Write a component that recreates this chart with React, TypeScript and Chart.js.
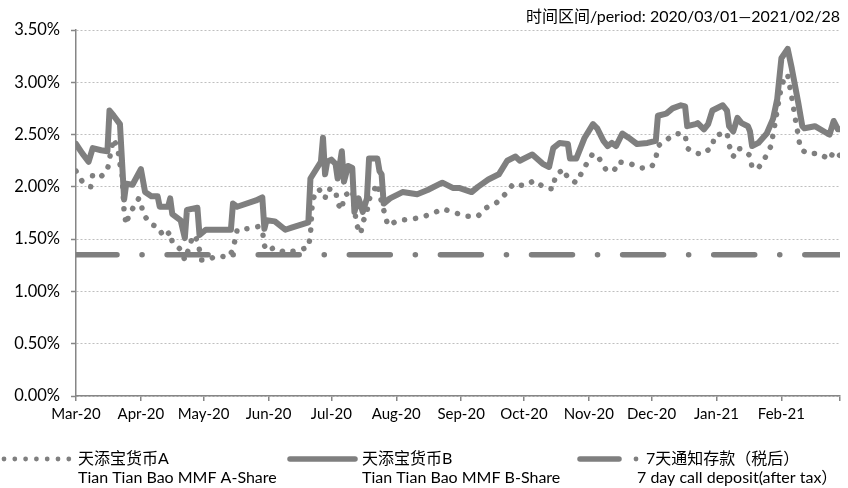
import { useEffect, useRef } from 'react';
import { Chart, registerables } from 'chart.js';

Chart.register(...registerables);

// ---- data ----
const monthTicks = [0, 31, 61, 92, 122, 153, 184, 214, 245, 275, 306, 337, 365];
const monthLabels = ['Mar-20', 'Apr-20', 'May-20', 'Jun-20', 'Jul-20', 'Aug-20', 'Sep-20', 'Oct-20', 'Nov-20', 'Dec-20', 'Jan-21', 'Feb-21', ''];
const yTicks = [0, 0.5, 1, 1.5, 2, 2.5, 3, 3.5];
const yTickLabels = ['0.00%', '0.50%', '1.00%', '1.50%', '2.00%', '2.50%', '3.00%', '3.50%'];

// 天添宝货币A (day offset from 2020-03-01, yield %)
const aDays = [0, 3, 7, 8, 12, 15, 16, 18, 20, 21, 22, 23, 24, 25, 27, 30, 31, 32, 36, 39, 42, 45, 46, 50, 52, 56, 58, 60, 63, 67, 73, 75, 77, 82, 87, 89, 90, 91, 95, 100, 105, 111, 112, 113, 116, 119, 120, 124, 125, 127, 128, 132, 134, 136, 137, 139, 140, 144, 145, 147, 149, 154, 160, 165, 171, 175, 180, 186, 192, 196, 201, 205, 209, 214, 219, 224, 228, 229, 233, 235, 239, 242, 245, 247, 250, 253, 257, 259, 265, 270, 275, 277, 278, 282, 287, 291, 292, 295, 299, 304, 305, 311, 312, 314, 316, 318, 322, 323, 326, 329, 332, 333, 334, 335, 336, 337, 339, 340, 341, 342, 343, 344, 345, 346, 349, 355, 360, 362, 364, 365];
const aValues = [2.15, 2.05, 2.00, 2.12, 2.10, 2.16, 2.27, 2.46, 2.36, 2.22, 2.12, 1.76, 1.64, 1.71, 1.79, 1.89, 1.86, 1.74, 1.64, 1.62, 1.52, 1.57, 1.47, 1.40, 1.30, 1.54, 1.49, 1.30, 1.30, 1.34, 1.33, 1.40, 1.59, 1.60, 1.62, 1.59, 1.44, 1.39, 1.42, 1.37, 1.39, 1.42, 1.54, 1.88, 1.98, 1.89, 1.98, 1.97, 1.84, 1.78, 1.91, 1.97, 1.64, 1.55, 1.66, 1.76, 1.88, 2.03, 1.93, 1.78, 1.63, 1.68, 1.69, 1.71, 1.75, 1.79, 1.76, 1.72, 1.72, 1.80, 1.85, 1.93, 2.03, 2.01, 2.06, 1.99, 1.98, 2.11, 2.17, 2.08, 2.04, 2.15, 2.26, 2.32, 2.27, 2.17, 2.15, 2.24, 2.22, 2.18, 2.19, 2.27, 2.39, 2.45, 2.51, 2.50, 2.37, 2.33, 2.31, 2.38, 2.49, 2.52, 2.40, 2.29, 2.37, 2.36, 2.30, 2.18, 2.18, 2.27, 2.39, 2.50, 2.61, 2.73, 2.85, 2.96, 3.07, 3.07, 2.96, 2.85, 2.73, 2.61, 2.50, 2.37, 2.32, 2.32, 2.26, 2.34, 2.31, 2.30];

// 天添宝货币B
const bDays = [0, 3, 6, 8, 12, 15, 16, 18, 21, 23, 24, 27, 31, 33, 36, 39, 40, 44, 45, 46, 50, 52, 53, 58, 59, 62, 74, 75, 77, 86, 89, 90, 91, 95, 100, 103, 111, 112, 117, 118, 119, 120, 122, 124, 125, 127, 128, 130, 132, 133, 135, 137, 139, 140, 144, 145, 146, 147, 150, 156, 163, 168, 175, 180, 183, 189, 192, 197, 202, 206, 210, 212, 218, 223, 226, 228, 231, 235, 236, 239, 243, 247, 249, 252, 254, 256, 258, 261, 264, 268, 273, 277, 278, 282, 285, 289, 291, 292, 296, 297, 300, 302, 304, 309, 311, 312, 314, 316, 318, 321, 322, 323, 326, 330, 333, 335, 337, 340, 342, 345, 347, 348, 353, 359, 360, 362, 364, 365];
const bValues = [2.41, 2.32, 2.24, 2.37, 2.35, 2.34, 2.73, 2.68, 2.60, 1.88, 2.03, 2.02, 2.17, 1.95, 1.91, 1.91, 1.81, 1.81, 1.89, 1.74, 1.68, 1.51, 1.78, 1.80, 1.54, 1.59, 1.59, 1.84, 1.81, 1.87, 1.90, 1.60, 1.68, 1.67, 1.59, 1.61, 1.66, 2.08, 2.24, 2.47, 2.12, 2.24, 2.26, 2.22, 2.08, 2.34, 2.05, 2.20, 2.18, 1.76, 1.89, 1.76, 1.89, 2.27, 2.27, 2.15, 2.12, 1.84, 1.89, 1.95, 1.93, 1.97, 2.04, 1.99, 1.99, 1.95, 2.00, 2.07, 2.12, 2.25, 2.29, 2.25, 2.31, 2.22, 2.19, 2.37, 2.42, 2.41, 2.27, 2.27, 2.47, 2.60, 2.56, 2.44, 2.39, 2.42, 2.39, 2.51, 2.47, 2.41, 2.42, 2.44, 2.68, 2.70, 2.75, 2.78, 2.77, 2.58, 2.60, 2.61, 2.55, 2.60, 2.73, 2.78, 2.73, 2.58, 2.53, 2.66, 2.61, 2.58, 2.53, 2.39, 2.42, 2.51, 2.65, 2.84, 3.23, 3.32, 3.13, 2.81, 2.58, 2.56, 2.58, 2.51, 2.50, 2.63, 2.55, 2.55];

// 7天通知存款（税后）
const depositDays = [0, 365];
const depositValues = [1.35, 1.35];

const titleText = '时间区间/period: 2020/03/01—2021/02/28';
const legendNamesCn = ['天添宝货币A', '天添宝货币B', '7天通知存款（税后）'];
const legendNamesEn = ['Tian Tian Bao MMF A-Share', 'Tian Tian Bao MMF B-Share', '7 day call deposit(after tax）'];

const GRAY = '#7f7f7f';
const AXIS = '#868686';
const FONT = "Lato, 'Noto Sans CJK SC', sans-serif";

const toPoints = (xs: number[], ys: number[]) => xs.map((x, i) => ({ x, y: ys[i] }));

const overlayPlugin = {
  id: 'overlay',
  afterDraw(chart: any) {
    const ctx = chart.ctx as CanvasRenderingContext2D;
    ctx.save();
    ctx.fillStyle = '#000';
    ctx.textBaseline = 'middle';
    ctx.font = `16px ${FONT}`;
    ctx.textAlign = 'right';
    ctx.fillText(titleText, 840, 17);

    ctx.textAlign = 'left';
    const y1 = 459;
    const y2 = 478;
    // item 1: dotted
    ctx.fillStyle = GRAY;
    for (let i = 0; i < 7; i++) {
      ctx.beginPath();
      ctx.arc(4 + i * 10.8, y1, 2.4, 0, Math.PI * 2);
      ctx.fill();
    }
    // item 2: solid
    ctx.strokeStyle = GRAY;
    ctx.lineCap = 'round';
    ctx.lineWidth = 5.5;
    ctx.beginPath();
    ctx.moveTo(290, y1);
    ctx.lineTo(355, y1);
    ctx.stroke();
    // item 3: dash + dot
    ctx.beginPath();
    ctx.moveTo(580, y1);
    ctx.lineTo(619, y1);
    ctx.stroke();
    ctx.beginPath();
    ctx.arc(636, y1, 2.4, 0, Math.PI * 2);
    ctx.fill();

    ctx.fillStyle = '#000';
    ctx.font = `16px ${FONT}`;
    ctx.fillText(legendNamesCn[0], 78, y1);
    ctx.fillText(legendNamesEn[0], 78, y2);
    ctx.fillText(legendNamesCn[1], 362, y1);
    ctx.fillText(legendNamesEn[1], 362, y2);
    ctx.fillText(legendNamesCn[2], 646, y1);
    ctx.fillText(legendNamesEn[2], 637, y2);
    ctx.restore();
  },
};

export default function App() {
  const ref = useRef<HTMLCanvasElement | null>(null);

  useEffect(() => {
    if (!ref.current) return;
    const chart = new Chart(ref.current, {
      type: 'line',
      data: {
        datasets: [
          {
            label: legendNamesCn[2],
            data: toPoints(depositDays, depositValues),
            borderColor: GRAY,
            borderWidth: 5.5,
            borderDash: [41, 25, 0.1, 25],
            borderCapStyle: 'round',
            pointRadius: 0,
            fill: false,
          },
          {
            label: legendNamesCn[0],
            data: toPoints(aDays, aValues),
            borderColor: GRAY,
            borderWidth: 5.5,
            borderDash: [0.1, 11],
            borderCapStyle: 'round',
            borderJoinStyle: 'round',
            pointRadius: 0,
            fill: false,
          },
          {
            label: legendNamesCn[1],
            data: toPoints(bDays, bValues),
            borderColor: GRAY,
            borderWidth: 6,
            borderCapStyle: 'round',
            borderJoinStyle: 'round',
            pointRadius: 0,
            fill: false,
          },
        ],
      },
      options: {
        animation: false,
        responsive: false,
        devicePixelRatio: 1,
        layout: { padding: { left: 0, right: 8, top: 30, bottom: 0 } },
        plugins: { legend: { display: false }, tooltip: { enabled: false } },
        elements: { line: { tension: 0 } },
        scales: {
          x: {
            type: 'linear',
            min: 0,
            max: 365,
            afterBuildTicks: (s: any) => {
              s.ticks = monthTicks.map((v) => ({ value: v }));
            },
            afterFit: (s: any) => {
              s.height = 92;
            },
            ticks: {
              autoSkip: false,
              maxRotation: 0,
              padding: 4,
              color: '#000',
              font: { family: FONT, size: 15 },
              callback: (_v: any, i: number) => monthLabels[i],
            },
            grid: { drawOnChartArea: false, drawTicks: true, tickLength: 5, tickColor: AXIS, lineWidth: 1.5 },
            border: { display: true, color: AXIS, width: 1.5 },
          },
          y: {
            type: 'linear',
            min: 0,
            max: 3.5,
            afterBuildTicks: (s: any) => {
              s.ticks = yTicks.map((v) => ({ value: v }));
            },
            afterFit: (s: any) => {
              s.width = 76;
            },
            ticks: {
              padding: 11,
              color: '#000',
              font: { family: FONT, size: 16.5 },
              callback: (_v: any, i: number) => yTickLabels[i],
            },
            grid: { color: '#bfbfbf', lineWidth: 1, drawTicks: true, tickLength: 5, tickColor: AXIS, tickBorderDash: [], tickWidth: 1.5 },
            border: { display: true, color: AXIS, width: 1.5, dash: [2, 2] },
          },
        },
      },
      plugins: [overlayPlugin],
    } as any);
    return () => chart.destroy();
  }, []);

  return (
    <div style={{ position: 'absolute', left: 0, top: 0, width: 848, height: 488, background: '#fff' }}>
      <canvas ref={ref} width={848} height={488} style={{ display: 'block' }} />
    </div>
  );
}
